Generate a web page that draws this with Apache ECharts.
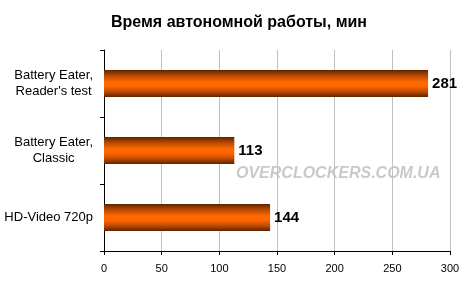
<!DOCTYPE html>
<html>
<head>
<meta charset="utf-8">
<script src="https://cdn.jsdelivr.net/npm/echarts@6/dist/echarts.min.js"></script>
<style>html,body{margin:0;padding:0;background:#fff}#c{width:463px;height:289px}</style>
</head>
<body>
<div id="c"></div>
<script>
const categories = ["Battery Eater,\nReader's test", "Battery Eater,\nClassic", "HD-Video 720p"];
const values = [281, 113, 144];
const xTicks = [0, 50, 100, 150, 200, 250, 300];
const titleText = "Время автономной работы, мин";

const chart = echarts.init(document.getElementById('c'), null, {renderer: 'canvas'});
const grad = new echarts.graphic.LinearGradient(0, 0, 0, 1, [
  {offset: 0, color: '#5e2300'},
  {offset: 0.2, color: '#b44700'},
  {offset: 0.45, color: '#ff6a00'},
  {offset: 0.6, color: '#ff6600'},
  {offset: 0.8, color: '#c04c00'},
  {offset: 1, color: '#5e2300'}
]);
chart.setOption({
  animation: false,
  backgroundColor: '#fff',
  title: {
    text: titleText, left: 234, top: 10, textAlign: 'center',
    textStyle: {fontFamily: 'Arial, Liberation Sans', fontSize: 16, fontWeight: 'bold', color: '#000'}
  },
  grid: {left: 104, right: 13, top: 50, bottom: 38, containLabel: false},
  xAxis: {
    type: 'value', min: xTicks[0], max: xTicks[xTicks.length - 1], interval: 50,
    axisLine: {show: true, lineStyle: {color: '#000', width: 1}},
    axisTick: {show: true, length: 4, lineStyle: {color: '#000'}},
    axisLabel: {margin: 12, fontFamily: 'Arial, Liberation Sans', fontSize: 11, color: '#000'},
    splitLine: {show: true, lineStyle: {color: '#c0c0c0', width: 1}}
  },
  yAxis: {
    type: 'category', data: categories, inverse: true,
    axisLine: {show: true, lineStyle: {color: '#000', width: 1}},
    axisTick: {show: true, length: 4, inside: false, lineStyle: {color: '#000'}},
    axisLabel: {
      margin: 11, color: '#000', align: 'right',
      formatter: v => '{a|' + v.split('\n').join('}\n{a|') + '}',
      rich: {a: {fontFamily: 'Arial, Liberation Sans', fontSize: 13, lineHeight: 16, align: 'center', color: '#000'}}
    },
    splitLine: {show: false}
  },
  series: [{
    type: 'bar', data: values, barWidth: 27,
    itemStyle: {color: grad},
    label: {show: true, position: 'right', distance: 4, fontFamily: 'Liberation Sans Narrow, Arial Narrow, Arial', fontSize: 15, fontWeight: 'bold', color: '#000'}
  }],
  graphic: [{
    type: 'text', left: 236, top: 166,
    style: {text: 'OVERCLOCKERS.COM.UA', fontFamily: 'Arial, Liberation Sans', fontSize: 16, fontWeight: 'bold', fontStyle: 'italic', fill: 'rgba(120,120,120,0.4)'}
  }]
});
</script>
</body>
</html>
